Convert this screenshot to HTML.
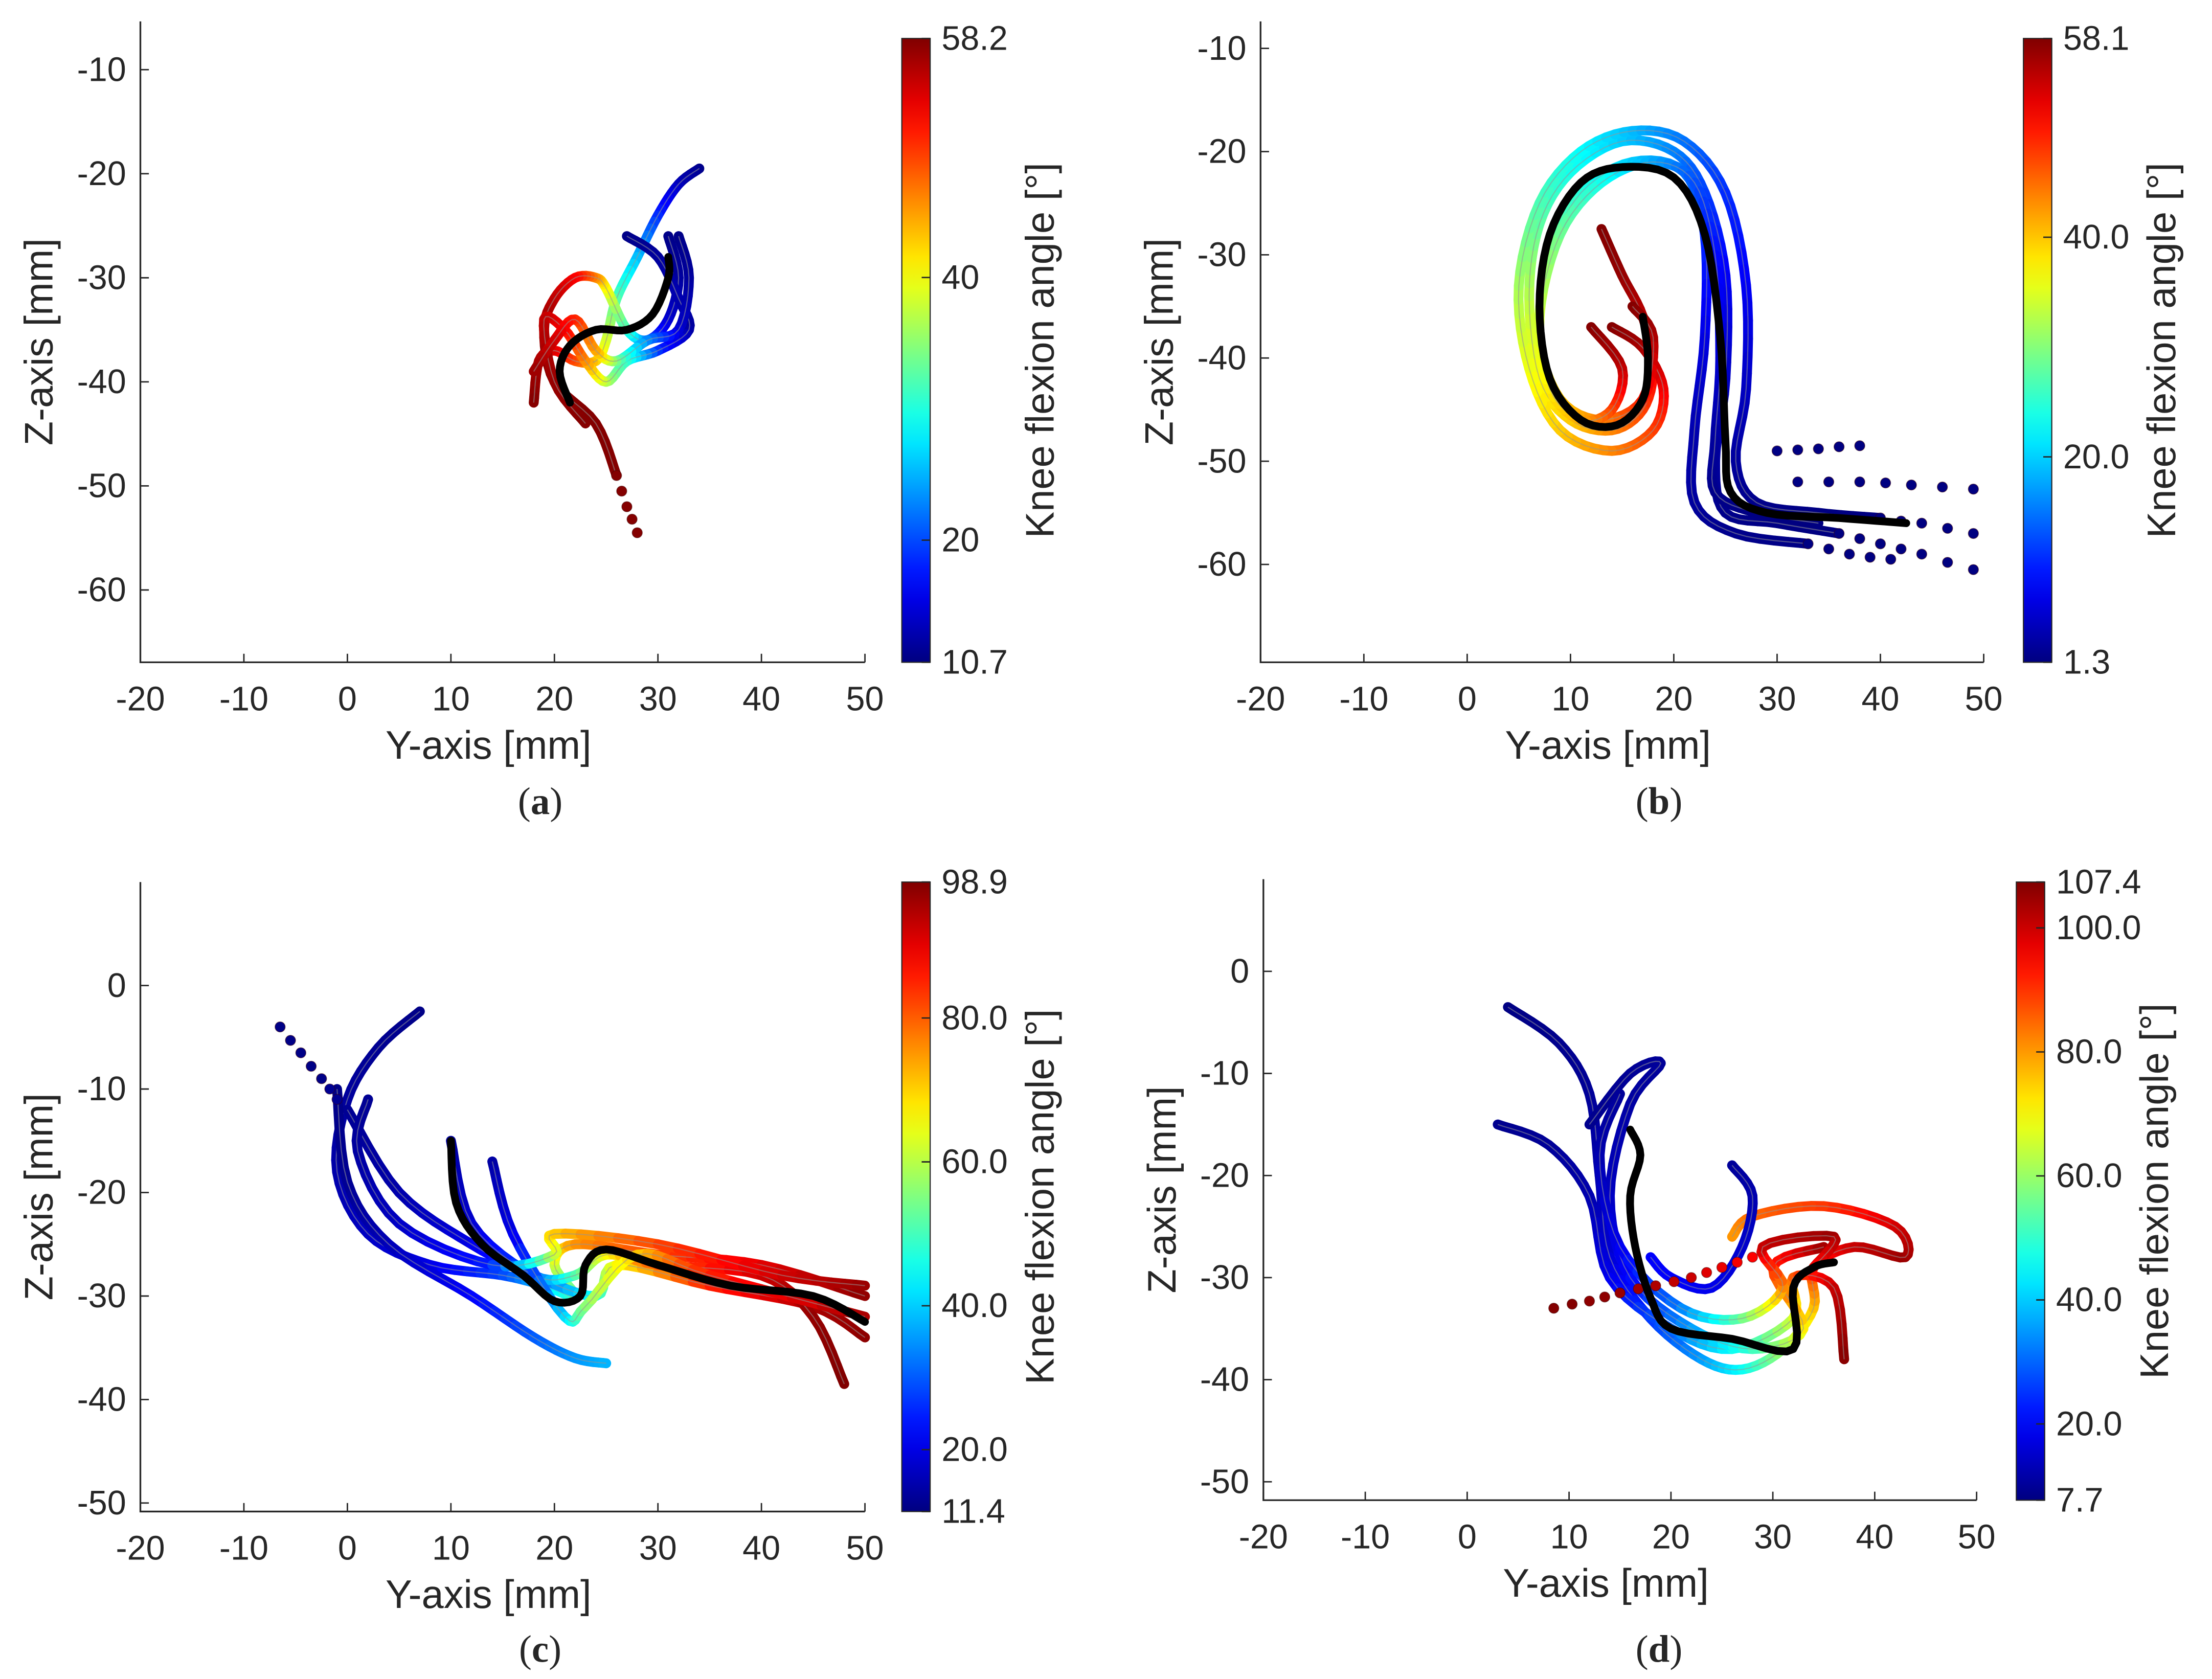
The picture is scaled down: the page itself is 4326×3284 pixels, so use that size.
<!DOCTYPE html>
<html><head><meta charset="utf-8"><style>
html,body{margin:0;padding:0;background:#fff}
svg{display:block}
text{font-family:"Liberation Sans",sans-serif;fill:#262626}
</style></head><body>
<svg id="fig" width="4326" height="3284" viewBox="0 0 1560 1184" xmlns="http://www.w3.org/2000/svg"></svg>
<script>
// ---------- DATA (y [mm], z [mm], knee angle [deg]) ----------
const aTrace1=[[34,-19.5,11],[32,-21,13],[30,-24,18],[28,-28,25],[26,-32,32],[25,-36,38],[24,-38,42],[22,-38,48],[20,-37,53],[18.5,-38,56],[18,-42,58]];
const aTrace2=[[31,-26,11],[32,-30,12],[31,-34,14],[29,-36,20],[27,-35,30],[25,-31,40],[24,-30,45],[22,-30,52],[20,-32,55],[19,-35,57],[20,-40,58],[24,-44,58],[26,-49,58]];
const aTrace3=[[27,-26,11],[30,-28,12],[32,-32,13],[33,-35,12],[30,-37,18],[27,-38,30],[25,-40,36],[23,-38,45],[21,-35,52],[19,-34,55],[20,-40,57],[23,-44,58]];
const aTrace4=[[32,-26,11],[33,-30,12],[32,-35,14],[29,-36,22],[26,-38,33],[24,-37,44],[22,-34,50],[20,-36,54],[18,-39,57]];
const aDots=[[26,-49,58],[26.5,-50.5,58],[27,-52,58],[27.5,-53.2,58],[28,-54.5,58]];
const aMean=[[21.5,-42],[20.5,-39],[21.5,-36.5],[24,-35],[27,-35],[29.5,-33.5],[31,-30],[31,-28]];

const bTrace1=[[13,-27.5,58],[15,-32,57],[17,-36,55],[18,-41,52],[17,-45,48],[14,-47,44],[10,-46,40],[7,-42,37],[6,-34,33],[7,-27,28],[10,-22,24],[15,-19,20],[20,-20,16],[23,-24,12],[25,-32,8],[25,-42,5],[24,-50,3],[25,-55,2],[30,-56,1.5],[36,-57,1.3]];
const bTrace2=[[14,-37,58],[17,-39,56],[19,-43,52],[18,-47,48],[14,-49,44],[9,-47,40],[6,-41,36],[5,-33,32],[7,-25,27],[11,-20,23],[16,-18,19],[21,-19,15],[25,-24,11],[27,-33,8],[27,-43,5],[26,-50,3],[28,-54,2],[34,-55,1.5],[40,-55.5,1.3]];
const bTrace3=[[16,-35,58],[18,-38,56],[17,-44,50],[13,-46,44],[9,-44,40],[7,-38,36],[8,-30,30],[11,-24,25],[16,-21,20],[21,-22,15],[23,-28,11],[23,-38,7],[22,-47,4],[22,-54,3],[26,-57,2],[33,-58,1.5]];
const bTrace4=[[12,-37,58],[15,-41,55],[14,-45,48],[11,-46,42],[8,-43,38],[7,-36,34],[9,-28,29],[13,-23,24],[18,-21,18],[22,-23,13],[24,-30,9],[24.5,-40,6],[24,-48,3],[24,-53,2],[28,-55,1.5],[34,-56,1.3]];
const bDots1=[[36,-57,1.3],[38,-57.5,1.3],[40,-58,1.3],[42,-58.5,1.3],[44,-59,1.3],[46.5,-59.8,1.3],[49,-60.5,1.3]];
const bDots2=[[40,-55.5,1.3],[42,-55.8,1.3],[44,-56,1.3],[46.5,-56.5,1.3],[49,-57,1.3]];
const bDots3=[[33,-58,1.5],[35,-58.5,1.3],[37,-59,1.3],[39,-59.3,1.3],[41,-59.5,1.3]];
const bDots4=[[30,-49,1.5],[32,-48.9,1.3],[34,-48.8,1.3],[36,-48.6,1.3],[38,-48.5,1.3]];
const bDots5=[[32,-52,1.5],[35,-52,1.3],[38,-52,1.3],[40.5,-52.1,1.3],[43,-52.3,1.3],[46,-52.5,1.3],[49,-52.7,1.3]];
const bMean=[[17,-36],[17.5,-40],[17,-44],[14.5,-46.5],[11,-46],[8,-42],[7,-35],[8,-28],[11,-23],[15,-21.5],[20,-22.5],[23,-28],[24.5,-38],[25,-48],[25.5,-53],[29,-55],[36,-55.5],[42.5,-56]];

const cTrace1=[[7,-2.5,12],[3,-6,13],[0,-11,14],[-1,-18,15],[2,-24,17],[8,-27,20],[15,-28,28],[19,-29,40],[22,-30,50],[20,-27,60],[22,-25,75],[30,-26,82],[40,-27,90],[50,-30,98]];
const cTrace2=[[0,-12,13],[5,-20,15],[12,-25,20],[18,-28,30],[24,-30,45],[26,-27,65],[35,-29,85],[45,-31,95],[50,-34,98]];
const cTrace3=[[-1,-10,12],[0,-19,13],[4,-25,16],[12,-30,22],[18,-34,30],[22,-36,35],[25,-36.5,38]];
const cTrace4=[[10,-15,14],[12,-23,18],[18,-28,30],[22,-28,50],[25,-26,65],[30,-27,80],[40,-28,92],[45,-32,97],[48,-38.5,98.9]];
const cTrace5=[[14,-17,14],[16,-24,20],[21,-32,40],[23,-31,55],[28,-26,70],[35,-28,85],[50,-32,96]];
const cTrace6=[[2,-11,13],[1,-16,14],[5,-23,17],[14,-27,25],[20,-26,60],[20,-24,70],[30,-25,82],[42,-28,92],[50,-29,97]];
const cDots=[[-6.5,-4,12],[-5.5,-5.3,12],[-4.5,-6.5,12],[-3.5,-7.8,12],[-2.5,-9,12],[-1.7,-10,13],[-1,-11,13]];
const cMean=[[10,-15],[10.5,-21],[13,-25],[17,-28],[20,-30.5],[22.5,-30],[23,-27],[25,-25.5],[30,-27],[37,-29],[45,-30],[50,-32.5]];

const dTrace1=[[4,-3.5,8],[9,-7,9],[12,-12,10],[13,-20,12],[14,-28,16],[18,-34,25],[23,-38,35],[27,-39,45],[31,-37,60],[34,-33,75],[34,-29,90],[38,-27,100],[43,-28,105],[42,-25,100],[35,-23,90],[28,-24,85],[26,-26,80]];
const dTrace2=[[3,-15,9],[8,-17,10],[12,-22,12],[14,-30,18],[20,-35,30],[26,-37,45],[32,-34,65],[32,-30,85],[36,-31,100],[37,-38,107]];
const dTrace3=[[12,-15,9],[16,-10,10],[19,-9,10],[16,-13,11],[14,-22,14],[16,-30,20],[22,-35,35],[28,-37,50],[33,-35,70],[30,-29,90],[35,-27,105]];
const dTrace4=[[26,-19,10],[28,-22,12],[27,-27,15],[24,-31,18],[20,-30,20],[18,-28,20]];
const dTrace5=[[15,-12,10],[13,-18,12],[15,-27,18],[21,-33,32],[27,-34,55],[31,-31,80],[29,-27,100],[36,-26,105],[34,-29,95]];
const dDots=[[8.5,-33,107],[10.3,-32.6,107],[12,-32.3,106],[13.5,-31.9,106],[15,-31.5,105],[16.8,-31.1,104],[18.5,-30.8,103],[20.3,-30.4,101],[22,-30,100],[23.5,-29.5,98],[25,-29,97],[26.5,-28.5,96],[28,-28,95]];
const dMean=[[16,-15.5],[17,-18],[16,-22],[16.5,-27],[18,-32],[20,-35],[26,-36],[32,-37],[32,-31],[34,-29],[36,-28.5]];

const xTicks=[-20,-10,0,10,20,30,40,50];
const aZTicks=[-10,-20,-30,-40,-50,-60];
const cZTicks=[0,-10,-20,-30,-40,-50];
const aCbTicks=[10.7,20,40,58.2], aCbLabels=["10.7","20","40","58.2"];
const bCbTicks=[1.3,20,40,58.1], bCbLabels=["1.3","20.0","40.0","58.1"];
const cCbTicks=[11.4,20,40,60,80,98.9], cCbLabels=["11.4","20.0","40.0","60.0","80.0","98.9"];
const dCbTicks=[7.7,20,40,60,80,100,107.4], dCbLabels=["7.7","20.0","40.0","60.0","80.0","100.0","107.4"];

// ---------- RENDER ----------
const NS="http://www.w3.org/2000/svg";
const svg=document.getElementById('fig');
function mk(tag,attrs,parent){const e=document.createElementNS(NS,tag);for(const k in attrs)e.setAttribute(k,attrs[k]);(parent||svg).appendChild(e);return e;}
function jet(t){t=Math.max(0,Math.min(1,t));
 const r=Math.max(0,Math.min(1,1.5-Math.abs(4*t-3))),g=Math.max(0,Math.min(1,1.5-Math.abs(4*t-2))),b=Math.max(0,Math.min(1,1.5-Math.abs(4*t-1)));
 return `rgb(${Math.round(r*255)},${Math.round(g*255)},${Math.round(b*255)})`;}
// Catmull-Rom smoothing for rendering (points in pixel space + value)
function smooth(pts,n){
 if(pts.length<3)return pts;
 const out=[];
 for(let i=0;i<pts.length-1;i++){
  const p0=pts[Math.max(0,i-1)],p1=pts[i],p2=pts[i+1],p3=pts[Math.min(pts.length-1,i+2)];
  for(let k=0;k<n;k++){const t=k/n,t2=t*t,t3=t2*t;
   const f=j=>0.5*((2*p1[j])+(-p0[j]+p2[j])*t+(2*p0[j]-5*p1[j]+4*p2[j]-p3[j])*t2+(-p0[j]+3*p1[j]-3*p2[j]+p3[j])*t3);
   out.push([f(0),f(1),p1.length>2?p1[2]+(p2[2]-p1[2])*t:0]);}
 }
 out.push(pts[pts.length-1]);return out;
}
const defs=mk('defs',{});
const grad=mk('linearGradient',{id:'jetg',x1:0,y1:1,x2:0,y2:0},defs);
for(let i=0;i<=20;i++){mk('stop',{offset:i/20,'stop-color':jet(i/20)},grad);}

function panel(o){
 const g=mk('g',{});
 
 
 const X=v=>o.x0+(v+20)/70*(o.x1-o.x0);
 const Y=v=>o.yA+(v-o.vA)/(o.vB-o.vA)*(o.yB-o.yA);
 const T=a=>(a-o.cmin)/(o.cmax-o.cmin);
 const ax=mk('path',{d:`M${o.x0},${o.top}V${o.bot}H${o.x1}`,stroke:'#262626','stroke-width':1.2,fill:'none'},g);
 
 xTicks.forEach(v=>{mk('line',{x1:X(v),x2:X(v),y1:o.bot,y2:o.bot-6,stroke:'#262626','stroke-width':1},g);
  const t=mk('text',{x:X(v),y:o.bot+34,'text-anchor':'middle','font-size':24},g);t.textContent=v;
  });
 o.zt.forEach(v=>{mk('line',{x1:o.x0,x2:o.x0+6,y1:Y(v),y2:Y(v),stroke:'#262626','stroke-width':1},g);
  const t=mk('text',{x:o.x0-10,y:Y(v)+8,'text-anchor':'end','font-size':24},g);t.textContent=v;
  });
 let t=mk('text',{x:(o.x0+o.x1)/2-10,y:o.bot+68,'text-anchor':'middle','font-size':28},g);t.textContent='Y-axis [mm]';
 
 t=mk('text',{x:0,y:0,'text-anchor':'middle','font-size':28,transform:`translate(${o.x0-62},${(o.top+o.bot)/2}) rotate(-90)`},g);t.textContent='Z-axis [mm]';
 
 o.traces.forEach(tr=>{
  const sg=mk('g',{},g);
  
  const px=smooth(tr.map(p=>[X(p[0]),Y(p[1]),p[2]]),6);
  for(let i=0;i<px.length-1;i++){const p=px[i],q=px[i+1];
   mk('line',{x1:p[0],y1:p[1],x2:q[0],y2:q[1],stroke:jet(T((p[2]+q[2])/2)),'stroke-width':7,'stroke-linecap':'round'},sg);}
  mk('polyline',{points:px.map(p=>p[0]+','+p[1]).join(' '),fill:'none',stroke:'rgba(150,150,150,0.55)','stroke-width':0.8},sg);
 });
 o.dots.forEach(tr=>{tr.forEach(p=>{
  const c=mk('circle',{cx:X(p[0]),cy:Y(p[1]),r:3.6,fill:jet(T(p[2])),stroke:'rgba(60,0,0,0.5)','stroke-width':0.5},g);
  });});
 const mpx=smooth(o.mean.map(p=>[X(p[0]),Y(p[1])]),6);
 const mp=mk('polyline',{points:mpx.map(p=>p[0]+','+p[1]).join(' '),fill:'none',stroke:'#000','stroke-width':5.5,'stroke-linejoin':'round','stroke-linecap':'round'},g);
 
 const cb=mk('rect',{x:o.cbx,y:o.cbt,width:20,height:o.bot-o.cbt,fill:'url(#jetg)',stroke:'#262626','stroke-width':0.8},g);
 
 const CY=v=>o.bot-(v-o.cmin)/(o.cmax-o.cmin)*(o.bot-o.cbt);
 o.cbt_.forEach((v,i)=>{mk('line',{x1:o.cbx+14,x2:o.cbx+20,y1:CY(v),y2:CY(v),stroke:'#262626','stroke-width':1},g);
  const tt=mk('text',{x:o.cbx+28,y:CY(v)+8,'font-size':24},g);tt.textContent=o.cbl[i];
  });
 t=mk('text',{x:0,y:0,'text-anchor':'middle','font-size':28,transform:`translate(${o.cbx+107},${(o.cbt+o.bot)/2}) rotate(-90)`},g);t.textContent='Knee flexion angle [°]';
 
 t=mk('text',{x:o.capx,y:o.capy,'text-anchor':'middle','font-size':27,style:'font-family:"Liberation Serif",serif'},g);
 t.innerHTML='(<tspan font-weight="bold">'+o.letter+'</tspan>)';
 
}
panel({name:'panel-a',letter:'a',x0:99,x1:610,vA:-10,yA:49,vB:-60,yB:416,top:15,bot:467,zt:aZTicks,cmin:10.7,cmax:58.2,cbx:636,cbt:27,cbt_:aCbTicks,cbl:aCbLabels,
 traces:[aTrace1,aTrace2,aTrace3,aTrace4],dots:[aDots],mean:aMean,capx:381,capy:574});
panel({name:'panel-b',letter:'b',x0:889,x1:1399,vA:-10,yA:34,vB:-60,yB:398,top:15,bot:467,zt:aZTicks,cmin:1.3,cmax:58.1,cbx:1427,cbt:27,cbt_:bCbTicks,cbl:bCbLabels,
 traces:[bTrace1,bTrace2,bTrace3,bTrace4],dots:[bDots1,bDots2,bDots3,bDots4,bDots5],mean:bMean,capx:1170,capy:574});
panel({name:'panel-c',letter:'c',x0:99,x1:610,vA:0,yA:695,vB:-50,yB:1060,top:622,bot:1066,zt:cZTicks,cmin:11.4,cmax:98.9,cbx:636,cbt:622,cbt_:cCbTicks,cbl:cCbLabels,
 traces:[cTrace1,cTrace2,cTrace3,cTrace4,cTrace5,cTrace6],dots:[cDots],mean:cMean,capx:381,capy:1172});
panel({name:'panel-d',letter:'d',x0:891,x1:1394,vA:0,yA:685,vB:-50,yB:1045,top:620,bot:1058,zt:cZTicks,cmin:7.7,cmax:107.4,cbx:1422,cbt:622,cbt_:dCbTicks,cbl:dCbLabels,
 traces:[dTrace1,dTrace2,dTrace3,dTrace4,dTrace5],dots:[dDots],mean:dMean,capx:1170,capy:1172});
</script>
</body></html>
